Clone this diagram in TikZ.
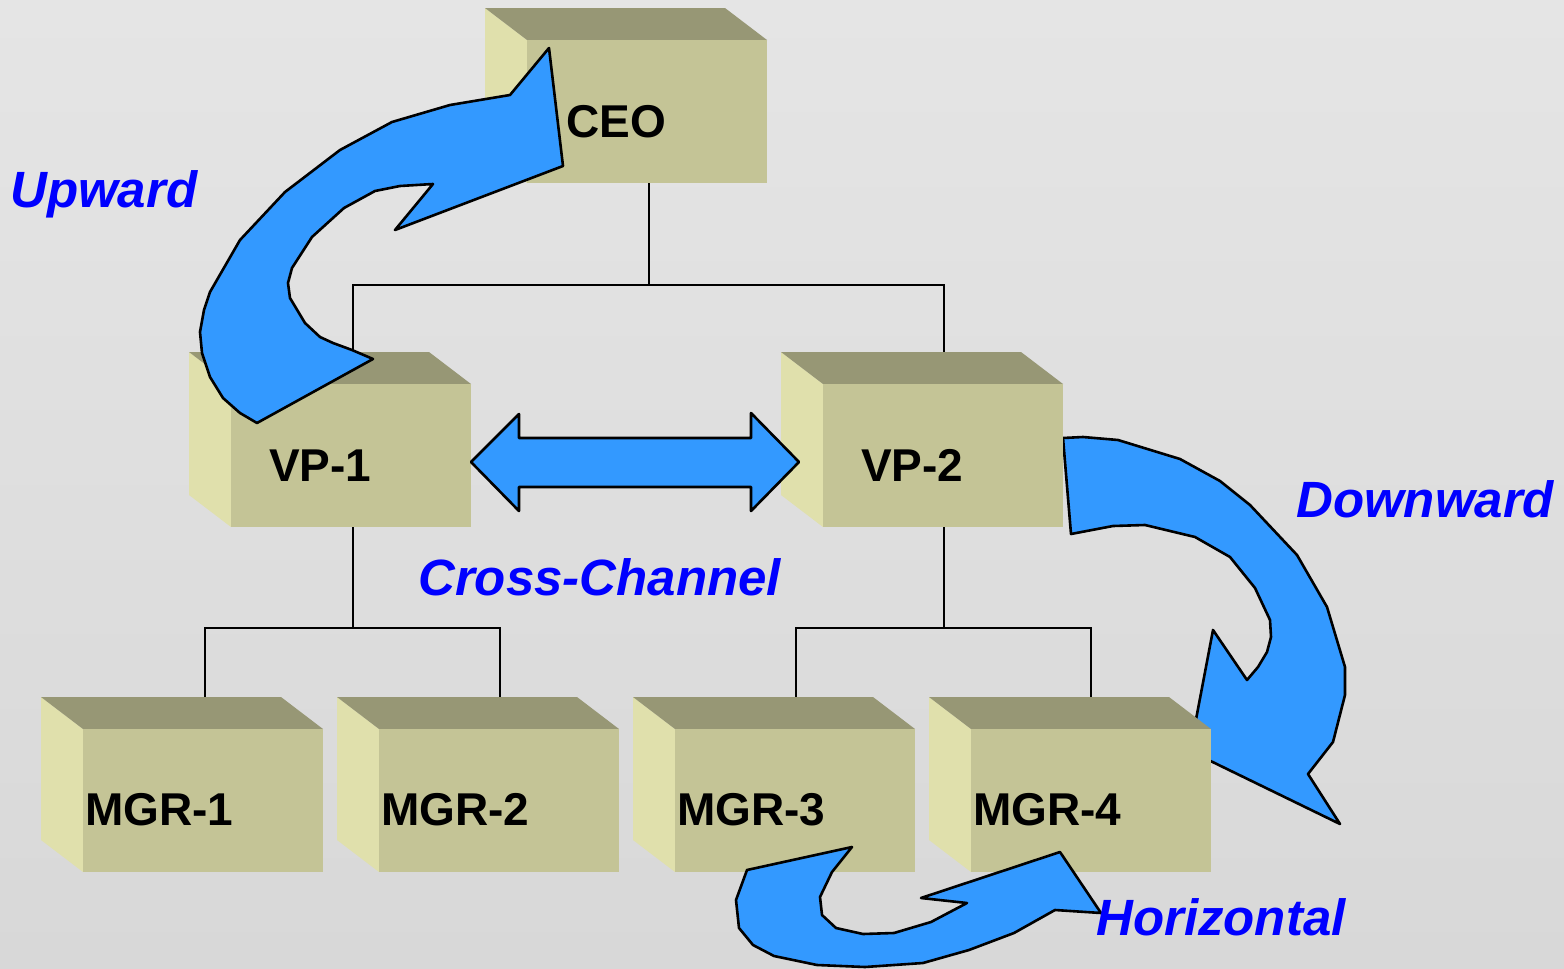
\documentclass[tikz,border=0pt]{standalone}
\usepackage{fontspec}
\setmainfont{Liberation Sans}
\definecolor{arrowblue}{RGB}{51,153,255}
\definecolor{labelblue}{RGB}{0,0,255}
\definecolor{topc}{RGB}{151,151,117}
\definecolor{frontc}{RGB}{196,196,150}
\definecolor{leftc}{RGB}{224,224,172}
\definecolor{bgtop}{RGB}{229,229,229}
\definecolor{bgbot}{RGB}{216,216,216}
\newcommand\orgbox[3]{%
  \fill[leftc] (#2-42,#3-32) -- (#2,#3) -- (#2,#3+143) -- (#2-42,#3+111) -- cycle;
  \fill[topc] (#2-42,#3-32) -- (#2+198,#3-32) -- (#2+240,#3) -- (#2,#3) -- cycle;
  \node[face] (#1) at (#2,#3) {};
}
\begin{document}
\begin{tikzpicture}[x=1pt,y=-1pt,
  conn/.style={line width=1.9pt, draw=black},
  flow/.style={fill=arrowblue, draw=black, line width=2.6pt, line join=round},
  boxlbl/.style={anchor=base west, inner sep=0, font=\fontsize{46}{50}\selectfont\bfseries},
  kind/.style={anchor=base west, inner sep=0, text=labelblue, font=\fontsize{51}{55}\selectfont\bfseries\itshape},
  face/.style={minimum width=240pt, minimum height=143pt, anchor=north west, inner sep=0, fill=frontc}]
\useasboundingbox (0,0) rectangle (1564,969);
\shade[top color=bgtop, bottom color=bgbot] (0,0) rectangle (1564,969);

% tree connectors (drawn first, boxes hide the ends)
\coordinate (busA) at (0,285);
\coordinate (busB) at (0,628);
\coordinate (busC) at (0,628);
\coordinate (ceoS) at (649,183);
\coordinate (vpOneN) at (353,384);
\coordinate (vpTwoN) at (944,384);
\coordinate (vpOneS) at (353,527);
\coordinate (vpTwoS) at (944,527);
\coordinate (mOneN) at (205,729);
\coordinate (mTwoN) at (500,729);
\coordinate (mThreeN) at (796,729);
\coordinate (mFourN) at (1091,729);
\draw[conn] (ceoS) -- (ceoS |- busA) -| (vpOneN);
\draw[conn] (ceoS |- busA) -| (vpTwoN);
\draw[conn] (vpOneS) -- (vpOneS |- busB) -| (mOneN);
\draw[conn] (vpOneS |- busB) -| (mTwoN);
\draw[conn] (vpTwoS) -- (vpTwoS |- busC) -| (mThreeN);
\draw[conn] (vpTwoS |- busC) -| (mFourN);

% downward arrow (behind MGR-4)
\draw[flow] (1063,438) -- (1083,437) -- (1118,440) -- (1180,459) -- (1220,481) -- (1250,505) -- (1297,555) -- (1327,607) -- (1345,667) -- (1345,695) -- (1333,742) -- (1308,774) -- (1340,824) -- (1190,751) -- (1213,630) -- (1247,680) -- (1258,667) -- (1267,652) -- (1271,637) -- (1270,620) -- (1255,588) -- (1230,557) -- (1195,537) -- (1145,525) -- (1113,526) -- (1071,534) -- cycle;

% boxes
\orgbox{ceo}{527}{40}
\orgbox{vpone}{231}{384}
\orgbox{vptwo}{823}{384}
\orgbox{mgrone}{83}{729}
\orgbox{mgrtwo}{379}{729}
\orgbox{mgrthree}{675}{729}
\orgbox{mgrfour}{971}{729}

\node[boxlbl] (tceo) at (566,137) {CEO};
\node[boxlbl] (tvpone) at (269,481) {VP-1};
\node[boxlbl] (tvptwo) at (861,481) {VP-2};
\node[boxlbl] (tmone) at (85,825) {MGR-1};
\node[boxlbl] (tmtwo) at (381,825) {MGR-2};
\node[boxlbl] (tmthree) at (677,825) {MGR-3};
\node[boxlbl] (tmfour) at (973,825) {MGR-4};

% upward arrow
\draw[flow] (257,423) -- (240,413) -- (223,398) -- (210,377) -- (202,353) -- (200,332) -- (204,310) -- (210,292) -- (240,240) -- (285,192) -- (340,150) -- (392,122) -- (450,105) -- (480,100) -- (510,95) -- (549,48) -- (563,166) -- (395,230) -- (433,184) -- (400,186) -- (375,191) -- (344,208) -- (312,237) -- (292,268) -- (288,283) -- (290,298) -- (305,323) -- (320,337) -- (333,343) -- (352,350) -- (373,359) -- cycle;

% cross-channel arrow
\draw[flow] (471,462) -- (519,414) -- (519,438) -- (751,438) -- (751,413) -- (799,462) -- (751,511) -- (751,487) -- (519,487) -- (519,511) -- cycle;

% horizontal arrow
\draw[flow] (852,847) -- (747,870) -- (736,900) -- (739,928) -- (753,945) -- (774,956) -- (817,965) -- (865,967) -- (923,963) -- (969,950) -- (1014,933) -- (1055,910) -- (1101,913) -- (1060,852) -- (921,898) -- (967,903) -- (931,922) -- (894,933) -- (863,934) -- (836,928) -- (822,915) -- (820,897) -- (832,872) -- cycle;

% flow labels
\node[kind] (lup) at (10,207) {Upward};
\node[kind] (lcross) at (418,595) {Cross-Channel};
\node[kind] (ldown) at (1296,517) {Downward};
\node[kind] (lhor) at (1096,935) {Horizontal};
\end{tikzpicture}
\end{document}
